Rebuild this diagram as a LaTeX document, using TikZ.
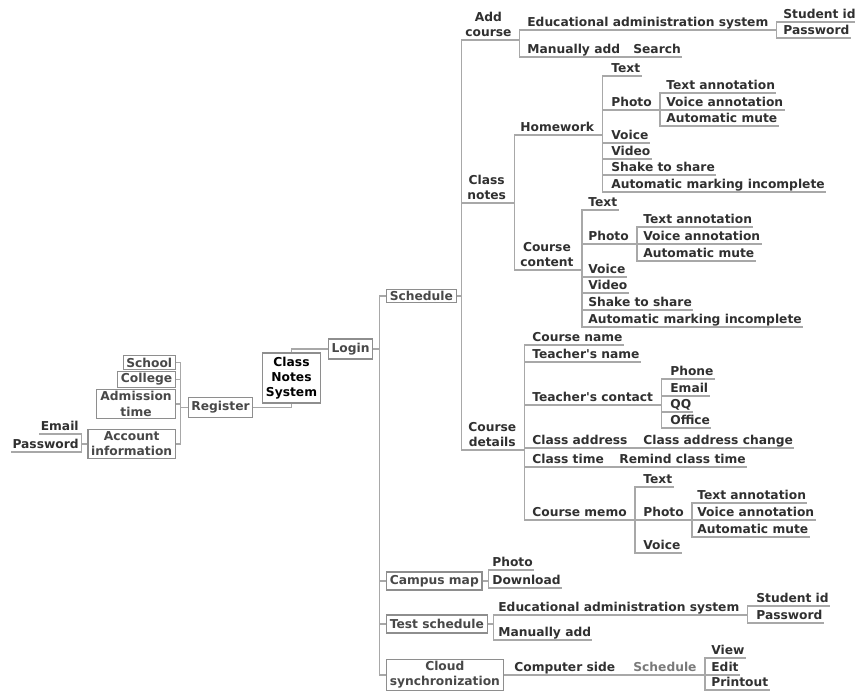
\documentclass[tikz,border=0pt]{standalone}
\usepackage{fontspec}
\setmainfont{DejaVu Sans}
\usetikzlibrary{positioning}

\definecolor{ink}{HTML}{303030}
\definecolor{boxink}{HTML}{484848}
\definecolor{faint}{HTML}{7A7A7A}
\definecolor{wire}{HTML}{A8A8A8}
\definecolor{frame}{HTML}{8E8E8E}

\tikzset{
  topic/.style={anchor=south west, inner xsep=0.8pt, inner ysep=2.2pt, text depth=0pt,
    text=ink, align=center, font=\bfseries\fontsize{9.2}{11.2}\selectfont},
  topicbox/.style={draw=frame, line width=0.9pt, fill=white, inner xsep=2.4pt, inner ysep=1.6pt,
    text=boxink, align=center, font=\bfseries\fontsize{9.2}{11.4}\selectfont},
  link/.style={draw=wire, line width=1pt},
}
% underline branch: from the end of a topic (or the side of a box) to a child's underline
\newcommand\twig[2]{\draw[link] (#1.south east) -- ++(7,0) |- (#2.south east);}
\newcommand\sprout[2]{\draw[link] (#1.east) -- ++(6,0) |- (#2.south east);}

\begin{document}
\begin{tikzpicture}[x=0.75pt, y=-0.75pt]
  \useasboundingbox (0,0) rectangle (855,691);

  % root, register and login
  \node[topicbox, text=black, minimum width=44pt, minimum height=37.5pt] (cns) at (291.5,378) {Class\\Notes\\System};
  \node[topicbox, minimum height=15pt] (login) at (350.5,349) {Login};
  \node[topicbox, minimum height=15.5pt] (reg) at (220.5,407.5) {Register};
  \draw[link] (reg.east) -| (cns.south);
  \draw[link] (cns.north) |- (login.west);

  % register side (grows to the left)
  \node[topicbox, anchor=east] (school) at (176,362.5) {School};
  \node[topicbox, anchor=east] (college) at (176,379.5) {College};
  \node[topicbox, anchor=east, minimum width=59pt] (admit) at (176,404) {Admission\\time};
  \node[topicbox, anchor=east] (account) at (176,444) {Account\\information};
  \node[topic, anchor=south east] (email) at (80,434) {Email};
  \node[topic, anchor=south east] (passwd) at (80,452) {Password};
  \foreach \nm in {school,college,admit,account}
    \draw[link] (reg.west) -- ++(-7,0) |- (\nm.east);
  \foreach \nm in {email,passwd}
    \draw[link] (account.west) -- ++(-6,0) |- (\nm.south west);

  % main branches of login
  \node[topicbox, anchor=west] (sched) at (386,296) {Schedule};
  \node[topicbox, anchor=west, minimum height=13.5pt] (campus) at (386,581) {Campus map};
  \node[topicbox, anchor=west, minimum height=13.5pt] (exams) at (386,624) {Test schedule};
  \node[topicbox, anchor=west] (cloud) at (386,675) {Cloud\\synchronization};
  \foreach \nm in {sched,campus,exams,cloud}
    \draw[link] (login.east) -- ++(6,0) |- (\nm.west);

  % schedule
  \node[topic] (addcourse) at (464,40) {Add\\course};
  \node[topic] (notes) at (466,203) {Class\\notes};
  \node[topic] (details) at (467,450) {Course\\details};
  \foreach \nm in {addcourse,notes,details}
    \draw[link] (sched.east) -- ++(5,0) |- (\nm.south east);

  % add course
  \node[topic] (edu) at (526,30) {Educational administration system};
  \node[topic] (manual) at (526,57) {Manually add};
  \node[topic] (search) at (632,57) {Search};
  \twig{addcourse}{edu}
  \twig{addcourse}{manual}
  \twig{manual}{search}
  \node[topic] (sid) at (782,22) {Student id};
  \node[topic] (pwd) at (782,38) {Password};
  \twig{edu}{sid}
  \twig{edu}{pwd}

  % class notes
  \node[topic] (homework) at (519,135) {Homework};
  \node[topic] (content) at (519,270) {Course\\content};
  \twig{notes}{homework}
  \twig{notes}{content}

  \foreach \nm/\yy/\txt in {hwtext/76/Text, hwphoto/110/Photo, hwvoice/143/Voice, hwvideo/159/Video,
      hwshake/175/Shake to share, hwmark/192/Automatic marking incomplete} {
    \node[topic] (\nm) at (610,\yy) {\txt};
    \twig{homework}{\nm}
  }
  \foreach \nm/\yy/\txt in {hwta/93/Text annotation, hwva/110/Voice annotation, hwmute/126/Automatic mute} {
    \node[topic] (\nm) at (665,\yy) {\txt};
    \twig{hwphoto}{\nm}
  }

  \foreach \nm/\yy/\txt in {cctext/210/Text, ccphoto/244/Photo, ccvoice/277/Voice, ccvideo/293/Video,
      ccshake/310/Shake to share, ccmark/327/Automatic marking incomplete} {
    \node[topic] (\nm) at (587,\yy) {\txt};
    \twig{content}{\nm}
  }
  \foreach \nm/\yy/\txt in {ccta/227/Text annotation, ccva/244/Voice annotation, ccmute/261/Automatic mute} {
    \node[topic] (\nm) at (642,\yy) {\txt};
    \twig{ccphoto}{\nm}
  }

  % course details
  \foreach \nm/\yy/\txt in {cname/345/Course name, tname/362/Teacher\textquotesingle s name,
      contact/405/Teacher\textquotesingle s contact, address/448/Class address, ctime/467/Class time,
      memo/520/Course memo} {
    \node[topic] (\nm) at (531,\yy) {\txt};
    \twig{details}{\nm}
  }
  \foreach \nm/\yy/\txt in {phone/379/Phone, mail/396/Email, qq/412/QQ, office/428/Office} {
    \node[topic] (\nm) at (669,\yy) {\txt};
    \twig{contact}{\nm}
  }
  \node[topic] (addrchange) at (642,448) {Class address change};
  \twig{address}{addrchange}
  \node[topic] (remind) at (618,467) {Remind class time};
  \twig{ctime}{remind}
  \foreach \nm/\yy/\txt in {mtext/487/Text, mphoto/520/Photo, mvoice/553/Voice} {
    \node[topic] (\nm) at (642,\yy) {\txt};
    \twig{memo}{\nm}
  }
  \foreach \nm/\yy/\txt in {mta/503/Text annotation, mva/520/Voice annotation, mmute/537/Automatic mute} {
    \node[topic] (\nm) at (696,\yy) {\txt};
    \twig{mphoto}{\nm}
  }

  % campus map
  \node[topic] (cphoto) at (491,570) {Photo};
  \node[topic] (download) at (491,588) {Download};
  \sprout{campus}{cphoto}
  \sprout{campus}{download}

  % test schedule
  \node[topic] (edu2) at (497,615) {Educational administration system};
  \node[topic] (manual2) at (497,640) {Manually add};
  \sprout{exams}{edu2}
  \sprout{exams}{manual2}
  \node[topic] (sid2) at (755,606) {Student id};
  \node[topic] (pwd2) at (755,623) {Password};
  \twig{edu2}{sid2}
  \twig{edu2}{pwd2}

  % cloud synchronization
  \node[topic] (cside) at (513,675) {Computer side};
  \sprout{cloud}{cside}
  \node[topic, text=faint] (csched) at (632,675) {Schedule};
  \twig{cside}{csched}
  \foreach \nm/\yy/\txt in {view/658/View, edit/675/Edit, print/690/Printout} {
    \node[topic] (\nm) at (710,\yy) {\txt};
    \twig{csched}{\nm}
  }
\end{tikzpicture}
\end{document}
